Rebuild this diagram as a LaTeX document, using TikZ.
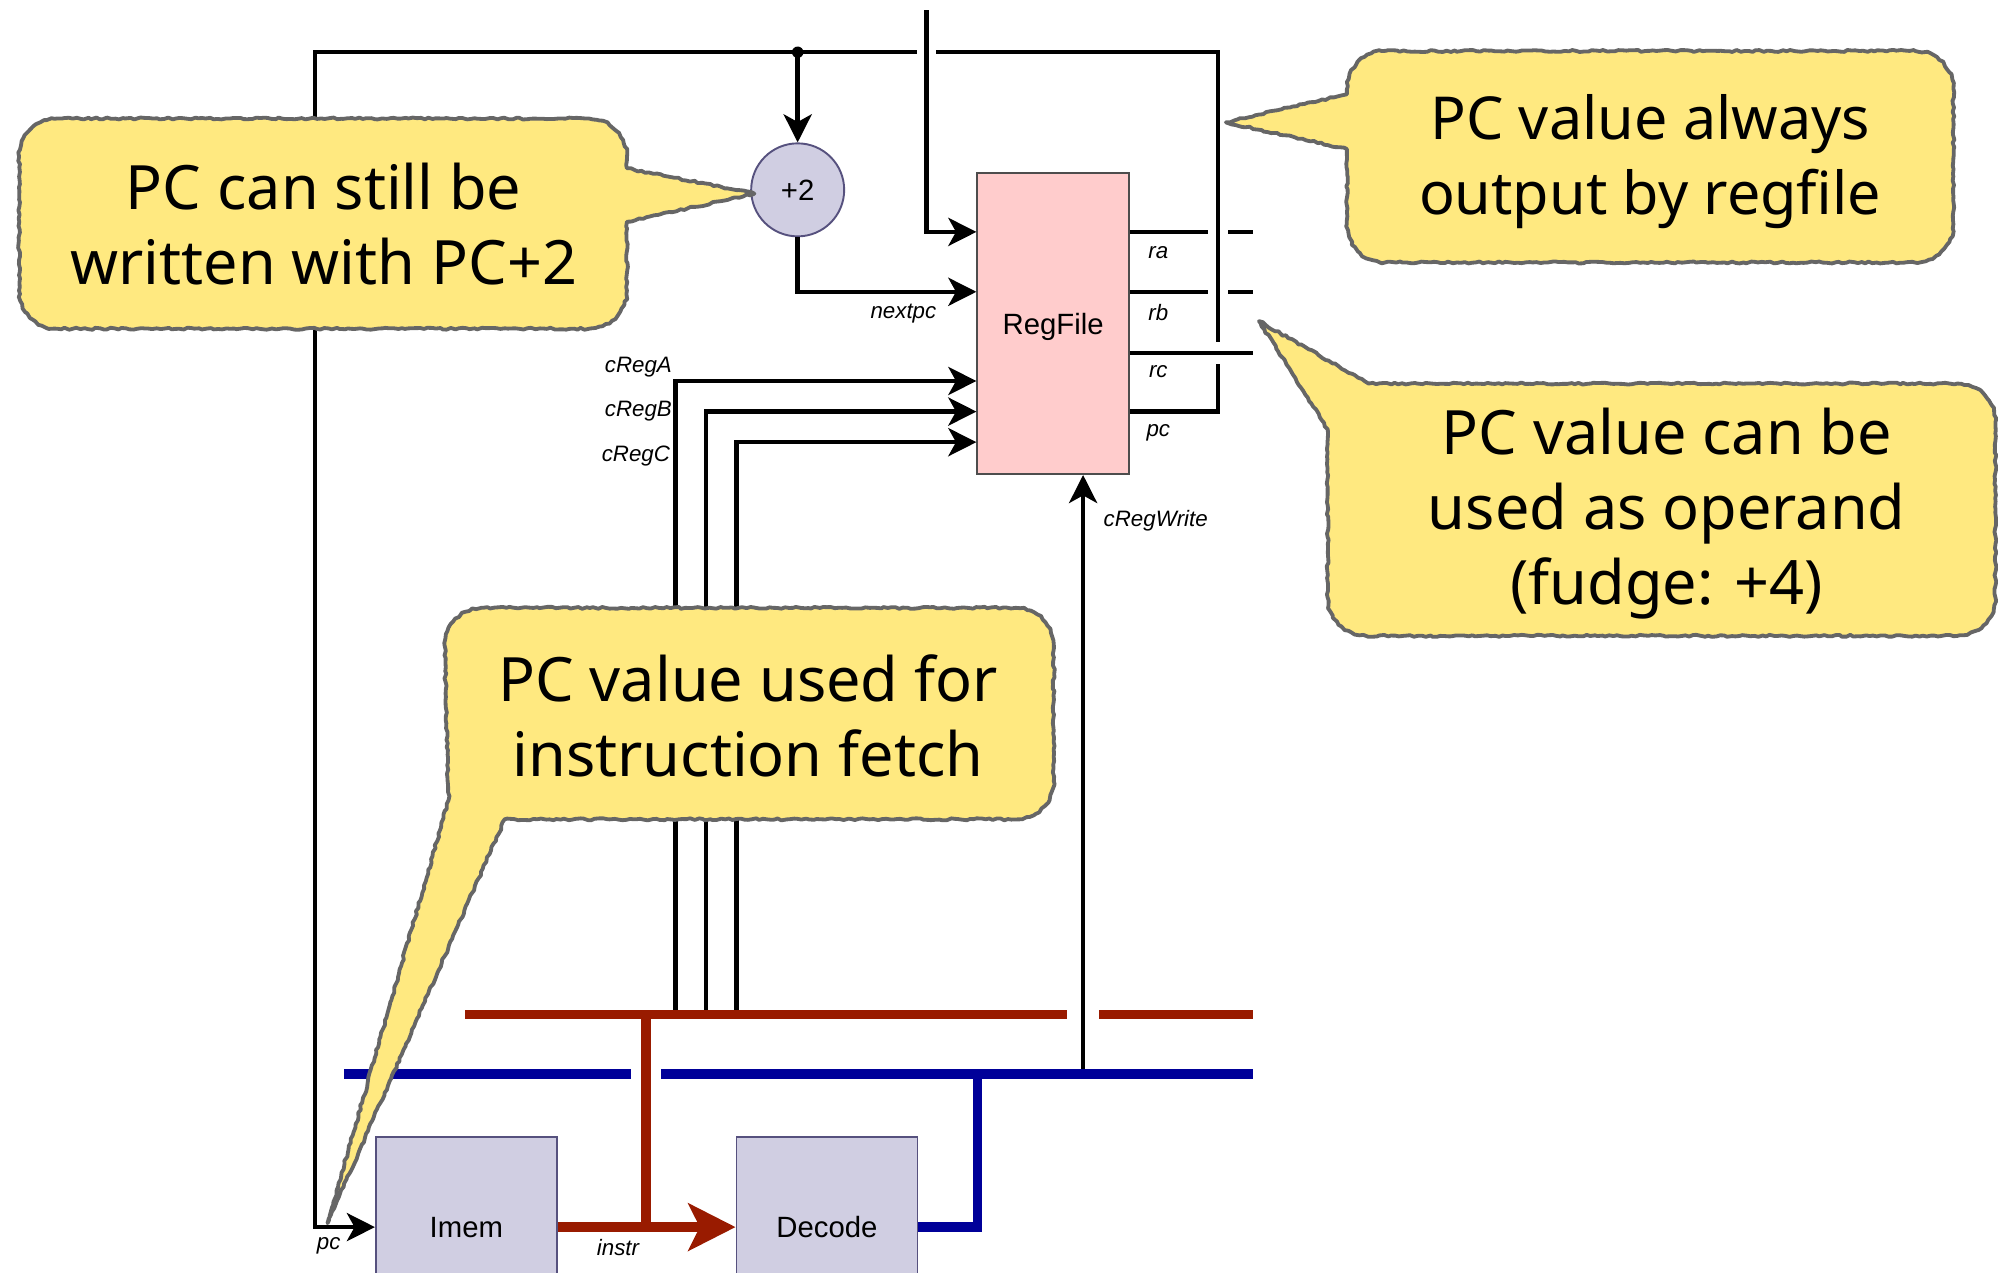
\documentclass[tikz,border=0pt]{standalone}
\usepackage{fontspec}
\setmainfont{Liberation Sans}
\newfontfamily\notefont{Noto Sans}
\usetikzlibrary{arrows.meta,decorations.pathmorphing}

\definecolor{busred}{HTML}{991B00}
\definecolor{busblue}{HTML}{000099}
\definecolor{unitfill}{HTML}{D0CEE2}
\definecolor{unitline}{HTML}{56517E}
\definecolor{regfill}{HTML}{FFCCCC}
\definecolor{regline}{HTML}{4D4D4D}
\definecolor{notefill}{HTML}{FFE980}
\definecolor{noteline}{HTML}{666666}

\begin{document}
\begin{tikzpicture}[x=1pt,y=-1pt,
  wire/.style={line width=3.5pt, black},
  tip/.style={-{Stealth[length=22pt,width=22pt,inset=6pt]}},
  bigtip/.style={-{Stealth[length=37pt,width=37pt,inset=9pt]}},
  bridge/.style={preaction={draw=white, line width=#1, -, shorten <=6pt, shorten >=6pt}},
  rbus/.style={line width=7.5pt, busred},
  bbus/.style={line width=7.5pt, busblue},
  regbox/.style={draw=regline, fill=regfill, line width=1.5pt, minimum width=119pt,
    minimum height=236pt, inner sep=0pt, text depth=0pt, font=\fontsize{23}{27}\selectfont},
  unitbox/.style={draw=unitline, fill=unitfill, line width=1.5pt, minimum width=142pt,
    minimum height=142pt, inner sep=0pt, font=\fontsize{23}{27}\selectfont},
  adder/.style={draw=unitline, fill=unitfill, line width=1.5pt, circle, minimum size=73pt,
    inner sep=0pt, font=\fontsize{23}{27}\selectfont},
  lab/.style={font=\itshape\fontsize{17.5}{20}\selectfont, inner sep=0pt},
  note/.style={fill=notefill, draw=noteline, line width=3pt, line join=round,
    decorate, decoration={random steps, segment length=3pt, amplitude=0.8pt}},
  notetext/.style={font=\notefont\fontsize{48}{59}\selectfont, align=center, inner sep=0pt}
]
\useasboundingbox (0,0) rectangle (1568,999);
\clip (0,0) rectangle (1568,999);

% functional units
\node[regbox]  (rf)  at (826.5,254) {RegFile};
\node[adder]   (p2)  at (626,149)   {+2};
\node[unitbox] (im)  at (366,963)   {Imem};
\node[unitbox] (dec) at (649,963)   {Decode};

% wire anchor points
\coordinate (topIn)  at (727,8);
\coordinate (loopTR) at (956,41);
\coordinate (loopL)  at (247,41);
\coordinate (jn)     at (626,41);
\coordinate (yRa)    at (0,182);
\coordinate (yRb)    at (0,229);
\coordinate (yRc)    at (0,277);
\coordinate (yPc)    at (0,323);
\coordinate (yCa)    at (0,299);
\coordinate (yCb)    at (0,323);
\coordinate (yCc)    at (0,347);
\coordinate (raEnd)  at (983,182);
\coordinate (rbEnd)  at (983,229);
\coordinate (rcEnd)  at (983,277);
\coordinate (aBot)   at (530,796);
\coordinate (bBot)   at (554,796);
\coordinate (cBot)   at (578,796);
\coordinate (rbusL)  at (365,796);
\coordinate (rbusR)  at (983,796);
\coordinate (bbusL)  at (270,843);
\coordinate (bbusR)  at (983,843);
\coordinate (redTap) at (507,796);
\coordinate (blueTap) at (767,843);
\coordinate (cwBot)  at (850,843);

% register file outputs ra, rb
\draw[wire] (rf.east |- yRa) -- (raEnd);
\draw[wire] (rf.east |- yRb) -- (rbEnd);

% pc output loops back to the instruction memory
\draw[wire, bridge=16, tip] (rf.east |- yPc) -| (loopTR) -- (loopL) |- (im.west);

% register write input from above
\draw[wire, bridge=15, tip] (topIn) |- (rf.west |- yRa);

% rc output
\draw[wire, bridge=17] (rf.east |- yRc) -- (rcEnd);

% PC+2 path
\fill (jn) circle (4.5);
\draw[wire, tip] (jn) -- (p2.north);
\draw[wire, tip] (p2.south) |- (rf.west |- yRb);

% register selects from the control bus
\draw[wire, tip] (aBot) |- (rf.west |- yCa);
\draw[wire, tip] (bBot) |- (rf.west |- yCb);
\draw[wire, tip] (cBot) |- (rf.west |- yCc);

% buses
\draw[rbus] (rbusL) -- (rbusR);
\draw[wire, bridge=25, tip] (cwBot) -- (cwBot |- rf.south);
\draw[bbus] (bbusL) -- (bbusR);
\draw[rbus, bridge=24] (redTap) -- (redTap |- im.east);
\draw[rbus, bigtip] (im.east) -- (dec.west);
\draw[bbus] (dec.east) -| (blueTap);

% signal labels
\node[lab] (lra)  at (909,198) {ra};
\node[lab] (lrb)  at (909,245) {rb};
\node[lab] (lrc)  at (909,292) {rc};
\node[lab] (lpc)  at (909,340) {pc};
\node[lab] (lnpc) at (709,246) {nextpc};
\node[lab] (lca)  at (501,288) {cRegA};
\node[lab] (lcb)  at (501,323) {cRegB};
\node[lab] (lcc)  at (499,358) {cRegC};
\node[lab] (lcw)  at (907,409) {cRegWrite};
\node[lab] (lipc) at (258,978) {pc};
\node[lab] (lins) at (485,979) {instr};

% callouts
\path[note] (45,93) -- (462,93) arc[start angle=270, end angle=360, radius=30]
  -- (492,132) -- (592,152) -- (492,174) -- (492,228)
  arc[start angle=0, end angle=90, radius=30] -- (45,258)
  arc[start angle=90, end angle=180, radius=30] -- (15,123)
  arc[start angle=180, end angle=270, radius=30] -- cycle;
\node[notetext] (n1) at (254,176) {PC can still be\\written with PC+2};

\path[note] (1087,40) -- (1503,40) arc[start angle=270, end angle=360, radius=30]
  -- (1533,176) arc[start angle=0, end angle=90, radius=30] -- (1087,206)
  arc[start angle=90, end angle=180, radius=30] -- (1057,117) -- (962,96)
  -- (1057,74) -- (1057,70) arc[start angle=180, end angle=270, radius=30] -- cycle;
\node[notetext, font=\notefont\fontsize{46.5}{59}\selectfont] (n2) at (1295,127) {PC value always\\output by regfile};

\path[note] (1074,301) -- (1536,301) arc[start angle=270, end angle=360, radius=30]
  -- (1566,469) arc[start angle=0, end angle=90, radius=30] -- (1072,499)
  arc[start angle=90, end angle=180, radius=30] -- (1042,337) -- (988,252) -- cycle;
\node[notetext] (n3) at (1308,403) {PC value can be\\used as operand\\(fudge: +4)};

\path[note] (379,477) -- (797,477) arc[start angle=270, end angle=360, radius=30]
  -- (827,613) arc[start angle=0, end angle=90, radius=30] -- (396,643)
  -- (257,960) -- (352,628) -- (349,507)
  arc[start angle=180, end angle=270, radius=30] -- cycle;
\node[notetext] (n4) at (587,562) {PC value used for\\instruction fetch};
\end{tikzpicture}
\end{document}
